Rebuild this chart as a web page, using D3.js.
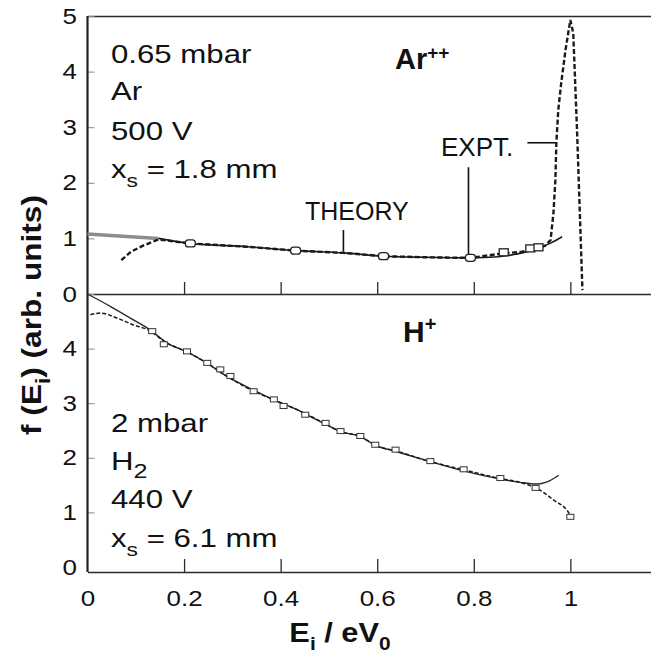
<!DOCTYPE html>
<html><head><meta charset="utf-8">
<script src="https://cdn.jsdelivr.net/npm/d3@7/dist/d3.min.js"></script>
<style>html,body{margin:0;padding:0;background:#fff;} svg{display:block;}</style>
</head><body>
<script>
// ---------- data ----------
const X_TICKS = [0, 0.2, 0.4, 0.6, 0.8, 1];
const X_TICK_LABELS = ["0", "0.2", "0.4", "0.6", "0.8", "1"];
const Y_TICKS_TOP = [0, 1, 2, 3, 4, 5];
const Y_TICK_LABELS_TOP = ["0", "1", "2", "3", "4", "5"];
const Y_TICKS_BOTTOM = [0, 1, 2, 3, 4];
const Y_TICK_LABELS_BOTTOM = ["0", "1", "2", "3", "4"];

// Ar++ panel (top)
const theoryTopE = [0, 0.147, 0.213, 0.331, 0.431, 0.53, 0.613, 0.70, 0.793, 0.851, 0.90, 0.932, 0.96, 0.983];
const theoryTopV = [1.08, 1.0, 0.91, 0.85, 0.78, 0.74, 0.68, 0.66, 0.65, 0.67, 0.74, 0.82, 0.92, 1.03];
const exptTopE = [0.07, 0.09, 0.115, 0.147, 0.213, 0.331, 0.431, 0.53, 0.613, 0.70, 0.793, 0.86, 0.90, 0.93, 0.948, 0.959, 0.965, 0.969, 0.971, 0.975, 0.981, 0.99, 1.0, 1.006, 1.014, 1.021, 1.025];
const exptTopV = [0.61, 0.76, 0.87, 0.98, 0.91, 0.85, 0.78, 0.74, 0.68, 0.66, 0.65, 0.73, 0.76, 0.82, 0.87, 0.97, 1.46, 2.05, 2.72, 3.31, 3.79, 4.39, 4.93, 4.69, 2.9, 1.1, 0.07];
const markTopRoundE = [0.213, 0.431, 0.613, 0.793];
const markTopRoundV = [0.91, 0.78, 0.68, 0.65];
const markTopSquareE = [0.862, 0.917, 0.934];
const markTopSquareV = [0.75, 0.82, 0.84];

// H+ panel (bottom)
const theoryBotE = [0, 0.048, 0.096, 0.130, 0.165, 0.206, 0.248, 0.289, 0.344, 0.386, 0.427, 0.476, 0.503, 0.524, 0.565, 0.596, 0.641, 0.710, 0.779, 0.855, 0.896, 0.931, 0.952, 0.976];
const theoryBotV = [5.0, 4.77, 4.52, 4.34, 4.10, 3.94, 3.73, 3.49, 3.24, 3.06, 2.91, 2.69, 2.57, 2.48, 2.39, 2.23, 2.11, 1.93, 1.76, 1.61, 1.55, 1.52, 1.56, 1.68];
const exptBotE = [0.006, 0.027, 0.061, 0.096, 0.124, 0.165, 0.206, 0.248, 0.289, 0.344, 0.386, 0.427, 0.476, 0.524, 0.565, 0.596, 0.641, 0.710, 0.779, 0.855, 0.896, 0.931, 0.965, 0.993, 1.003];
const exptBotV = [4.62, 4.65, 4.56, 4.43, 4.35, 4.10, 3.94, 3.73, 3.49, 3.22, 3.06, 2.91, 2.70, 2.48, 2.39, 2.23, 2.12, 1.93, 1.78, 1.62, 1.55, 1.44, 1.23, 1.04, 0.91];
const markBotE = [0.134, 0.158, 0.206, 0.248, 0.275, 0.296, 0.344, 0.386, 0.406, 0.451, 0.493, 0.524, 0.565, 0.596, 0.638, 0.710, 0.779, 0.855, 0.928, 1.0];
const markBotV = [4.31, 4.07, 3.94, 3.73, 3.61, 3.49, 3.21, 3.06, 2.94, 2.78, 2.63, 2.48, 2.39, 2.23, 2.14, 1.93, 1.78, 1.62, 1.44, 0.91];

// annotation anchors (data units, top panel)
const theoryNote = {e: 0.53, v0: 0.76, v1: 1.15};
const exptNote = {e: 0.789, v0: 0.72, v1: 2.28, hE0: 0.911, hE1: 0.971, hV: 2.72};

// ---------- layout ----------
const W = 651, H = 655;
const FONT = '"Liberation Sans", Arial, Helvetica, sans-serif';
const PLOT_BOTTOM = 572;
const svg = d3.select("body").append("svg").attr("width", W).attr("height", H)
  .style("background", "#fff");

const x = d3.scaleLinear().domain([0, 1.167]).range([87.5, W]);
const yTop = d3.scaleLinear().domain([0, 5]).range([294, 16]);
const yBot = d3.scaleLinear().domain([0, 5]).range([567, 294]);

const AX = "#2b2b2b";

function styleAxis(g, sx) {
  g.selectAll(".domain").attr("stroke", AX).attr("stroke-width", 1.5);
  g.selectAll(".tick line").attr("stroke", AX).attr("stroke-width", 1.3);
  g.selectAll(".tick text").attr("font-family", FONT).attr("font-size", 22)
    .attr("fill", "#111").attr("transform", `scale(${sx},1)`);
}

// bottom x axis with labels
const gxB = svg.append("g").attr("transform", `translate(0,${PLOT_BOTTOM})`)
  .call(d3.axisBottom(x).tickValues(X_TICKS).tickFormat((d, i) => X_TICK_LABELS[i])
    .tickSizeInner(-13).tickSizeOuter(0).tickPadding(18));
styleAxis(gxB, 1.18);
gxB.selectAll(".tick").filter(d => d === 0).select("line").remove();

// top panel bottom line with ticks
const gxT = svg.append("g").attr("transform", `translate(0,${yTop(0)})`)
  .call(d3.axisBottom(x).tickValues(X_TICKS.filter(d => d > 0)).tickFormat("")
    .tickSizeInner(-12).tickSizeOuter(0));
styleAxis(gxT, 1);

// top border
const gxTop = svg.append("g").attr("transform", `translate(0,${yTop(5)})`)
  .call(d3.axisTop(x).tickValues([]).tickSizeOuter(0));
styleAxis(gxTop, 1);

// left y axes
const gyT = svg.append("g").attr("transform", `translate(${x(0)},0)`)
  .call(d3.axisLeft(yTop).tickValues(Y_TICKS_TOP).tickFormat((d, i) => Y_TICK_LABELS_TOP[i])
    .tickSizeInner(-7).tickSizeOuter(0).tickPadding(9));
gyT.select(".domain").remove();
styleAxis(gyT, 1.18);
gyT.selectAll(".tick line").attr("stroke", "#888").attr("stroke-width", 1);

const gyB = svg.append("g").attr("transform", `translate(${x(0)},0)`)
  .call(d3.axisLeft(yBot).tickValues(Y_TICKS_BOTTOM).tickFormat((d, i) => Y_TICK_LABELS_BOTTOM[i])
    .tickSizeInner(-7).tickSizeOuter(0).tickPadding(9));
gyB.select(".domain").remove();
styleAxis(gyB, 1.18);
gyB.selectAll(".tick line").attr("stroke", "#888").attr("stroke-width", 1);
gyB.selectAll(".tick").filter(d => d === 0).select("line").remove();

// left axis line (full height)
svg.append("line").attr("x1", x(0)).attr("x2", x(0))
  .attr("y1", yTop(5)).attr("y2", PLOT_BOTTOM)
  .attr("stroke", "#222").attr("stroke-width", 2.2);

// ---------- curves ----------
const zip = (a, b) => a.map((d, i) => [d, b[i]]);
const lineTop = d3.line().x(d => x(d[0])).y(d => yTop(d[1])).curve(d3.curveMonotoneX);
const lineTopLin = d3.line().x(d => x(d[0])).y(d => yTop(d[1]));
const lineBot = d3.line().x(d => x(d[0])).y(d => yBot(d[1])).curve(d3.curveMonotoneX);

const thTop = zip(theoryTopE, theoryTopV);
svg.append("path").attr("d", lineTop(thTop.slice(0, 2))).attr("fill", "none")
  .attr("stroke", "#8c8c8c").attr("stroke-width", 3.5);
svg.append("path").attr("d", lineTop(thTop.slice(1))).attr("fill", "none")
  .attr("stroke", "#1a1a1a").attr("stroke-width", 1.6);
svg.append("path").attr("d", lineTopLin(zip(exptTopE, exptTopV))).attr("fill", "none")
  .attr("stroke", "#1a1a1a").attr("stroke-width", 2.4).attr("stroke-dasharray", "5,2.5");

svg.append("g").selectAll("rect").data(zip(markTopRoundE, markTopRoundV)).join("rect")
  .attr("x", d => x(d[0]) - 5).attr("y", d => yTop(d[1]) - 3.5)
  .attr("width", 10).attr("height", 7).attr("rx", 3)
  .attr("fill", "#fff").attr("stroke", "#222").attr("stroke-width", 1.3);
svg.append("g").selectAll("rect").data(zip(markTopSquareE, markTopSquareV)).join("rect")
  .attr("x", d => x(d[0]) - 4.5).attr("y", d => yTop(d[1]) - 3.5)
  .attr("width", 9).attr("height", 7)
  .attr("fill", "#fff").attr("stroke", "#222").attr("stroke-width", 1.3);

svg.append("path").attr("d", lineBot(zip(theoryBotE, theoryBotV))).attr("fill", "none")
  .attr("stroke", "#2a2a2a").attr("stroke-width", 1.4);
svg.append("path").attr("d", lineBot(zip(exptBotE, exptBotV))).attr("fill", "none")
  .attr("stroke", "#1a1a1a").attr("stroke-width", 1.5).attr("stroke-dasharray", "4,2");
svg.append("g").selectAll("rect").data(zip(markBotE, markBotV)).join("rect")
  .attr("x", d => x(d[0]) - 3.5).attr("y", d => yBot(d[1]) - 3)
  .attr("width", 7).attr("height", 5)
  .attr("fill", "#fff").attr("stroke", "#333").attr("stroke-width", 1);

// ---------- annotations ----------
function richText(x0, y0, parts, opt) {
  const rot = opt.rotate ? ` rotate(${opt.rotate})` : "";
  const t = svg.append("text")
    .attr("transform", `translate(${x0},${y0})${rot} scale(${opt.sx || 1},1)`)
    .attr("font-family", FONT).attr("font-size", opt.size)
    .attr("font-weight", opt.weight || "normal")
    .attr("text-anchor", opt.anchor || "start").attr("fill", "#111");
  let shift = 0;
  parts.forEach(p => {
    const want = p.dy || 0;
    const s = t.append("tspan").text(p.t).attr("dy", want - shift);
    shift = want;
    if (p.size) s.attr("font-size", p.size);
  });
  return t;
}

// condition labels
const CX = 111;
richText(CX, 63, [{t: "0.65 mbar"}], {size: 26, sx: 1.2});
richText(CX, 100, [{t: "Ar"}], {size: 26, sx: 1.2});
richText(CX, 140, [{t: "500 V"}], {size: 26, sx: 1.2});
richText(CX, 178, [{t: "x"}, {t: "s", size: 19, dy: 9}, {t: " = 1.8 mm"}], {size: 26, sx: 1.2});

richText(CX, 432, [{t: "2 mbar"}], {size: 26, sx: 1.2});
richText(CX, 470, [{t: "H"}, {t: "2", size: 21, dy: 8}], {size: 26, sx: 1.2});
richText(CX, 508, [{t: "440 V"}], {size: 26, sx: 1.2});
richText(CX, 547, [{t: "x"}, {t: "s", size: 19, dy: 9}, {t: " = 6.1 mm"}], {size: 26, sx: 1.2});

// species
richText(395, 69, [{t: "Ar"}, {t: "++", size: 19, dy: -10}], {size: 29, weight: "bold"});
richText(403, 342, [{t: "H"}, {t: "+", size: 20, dy: -11}], {size: 30, weight: "bold"});

// theory / expt
richText(305, 220, [{t: "THEORY"}], {size: 25});
richText(441, 156, [{t: "EXPT."}], {size: 26});
const ann = svg.append("g").attr("stroke", "#111").attr("stroke-width", 1.6);
ann.append("line").attr("x1", x(theoryNote.e)).attr("x2", x(theoryNote.e))
  .attr("y1", yTop(theoryNote.v1)).attr("y2", yTop(theoryNote.v0));
ann.append("line").attr("x1", x(exptNote.e)).attr("x2", x(exptNote.e))
  .attr("y1", yTop(exptNote.v1)).attr("y2", yTop(exptNote.v0));
ann.append("line").attr("x1", x(exptNote.hE0)).attr("x2", x(exptNote.hE1))
  .attr("y1", yTop(exptNote.hV)).attr("y2", yTop(exptNote.hV));

// axis titles
richText(340, 642, [{t: "E"}, {t: "i", size: 19, dy: 8}, {t: " / eV"}, {t: "0", size: 19, dy: 8}],
  {size: 28, weight: "bold", anchor: "middle", sx: 1.1});
richText(41, 315, [{t: "f (E"}, {t: "i", size: 20, dy: 9}, {t: ") (arb. units)"}],
  {size: 28, weight: "bold", anchor: "middle", sx: 1.13, rotate: -90});
</script>
</body></html>
